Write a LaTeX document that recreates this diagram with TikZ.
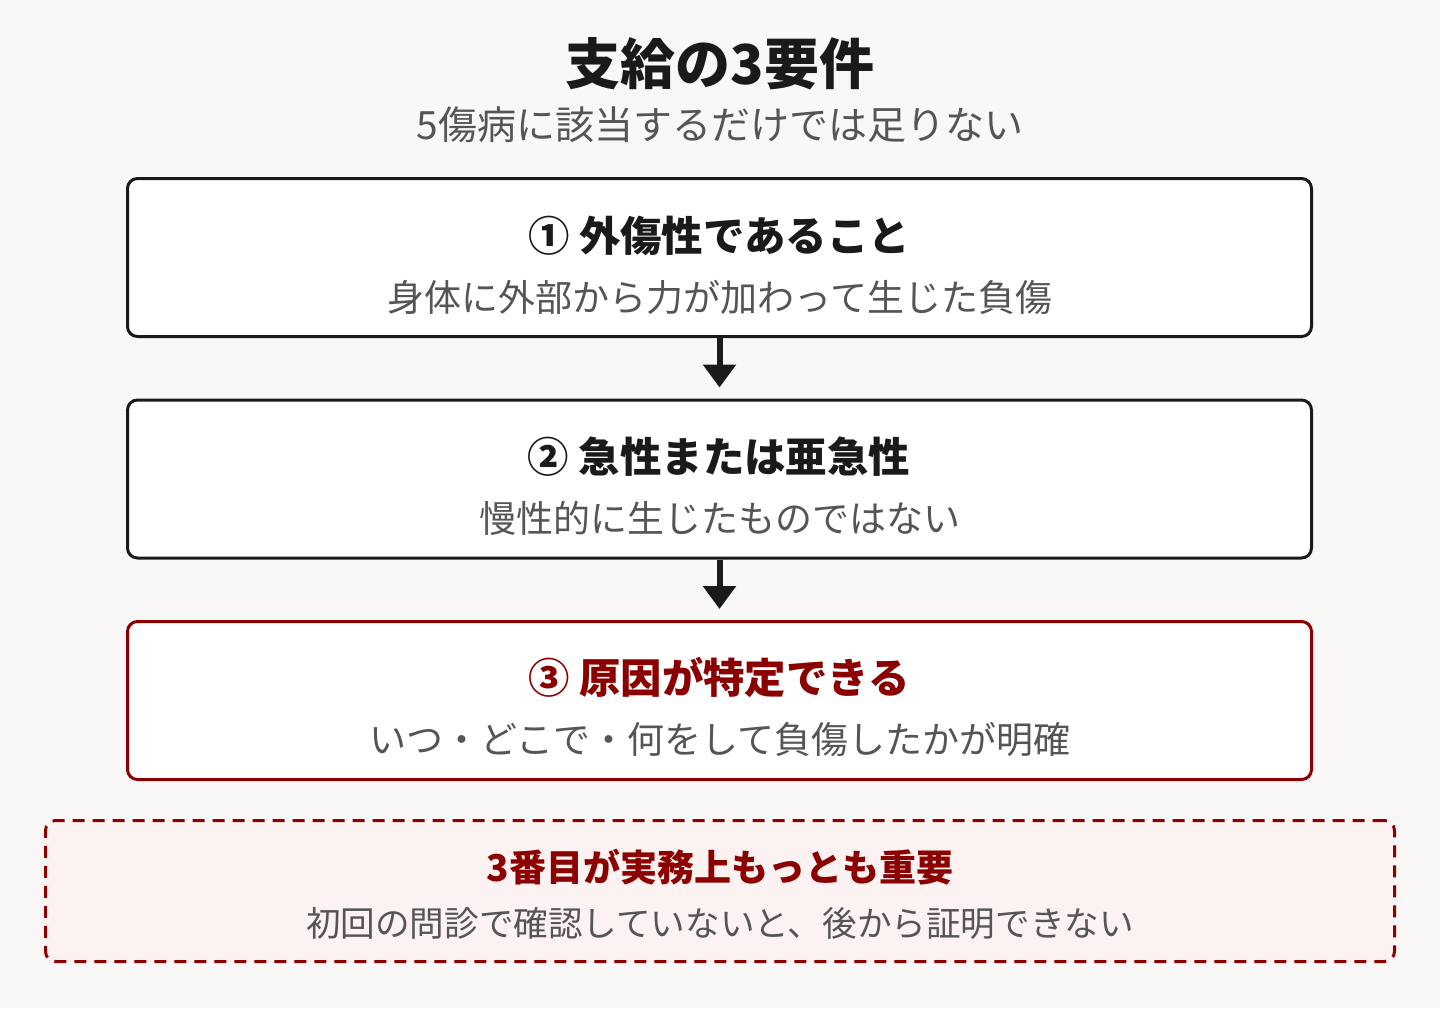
\documentclass[tikz,border=0pt]{standalone}
\usepackage{fontspec}
\setmainfont{Noto Sans CJK JP}
\usepackage{tikz}
\usetikzlibrary{arrows.meta}

\definecolor{bgpaper}{HTML}{F9F8F6}
\definecolor{inkdark}{HTML}{1A1A1A}
\definecolor{inkgray}{HTML}{555555}
\definecolor{keyred}{HTML}{8B0000}
\definecolor{notefill}{HTML}{FDF2F2}

\tikzset{
  reqbox/.style={draw=inkdark, fill=white, line width=1.5pt, rounded corners=5pt,
    minimum width=592pt, minimum height=79pt, inner sep=0pt},
  reqtitle/.style={anchor=base, inner sep=0pt, text=inkdark,
    font=\fontsize{20.7}{24}\selectfont\bfseries},
  reqtext/.style={anchor=base, inner sep=0pt, text=inkgray,
    font=\fontsize{18.5}{22}\selectfont},
  flow/.style={draw=inkdark, line width=3pt,
    -{Triangle[width=16pt,length=11.5pt]}, shorten >=5.5pt}
}

\begin{document}
\begin{tikzpicture}[x=0.5pt,y=-0.5pt]

\fill [bgpaper] (0,0) rectangle (1440,1008);

% heading
\node [anchor=base, inner sep=0pt, text=inkdark, font=\fontsize{27.5}{33}\selectfont\bfseries]
  (head) at (720,84) {支給の3要件};
\node [anchor=base, inner sep=0pt, text=inkgray, font=\fontsize{19.5}{23}\selectfont]
  (subhead) at (720,139) {5傷病に該当するだけでは足りない};

% the three requirements
\node [reqbox] (b1) at (719.5,257.5) {};
\node [reqbox] (b2) at (719.5,479) {};
\node [reqbox, draw=keyred] (b3) at (719.5,700.5) {};

\draw (719,251) node [reqtitle] (t1) {① 外傷性であること};
\draw (720,311) node [reqtext] (s1) {身体に外部から力が加わって生じた負傷};

\draw (719,472) node [reqtitle] (t2) {② 急性または亜急性};
\draw (720,532) node [reqtext] (s2) {慢性的に生じたものではない};

\draw (719,693) node [reqtitle, text=keyred] (t3) {③ 原因が特定できる};
\draw (720,753) node [reqtext] (s3) {いつ・どこで・何をして負傷したかが明確};

\foreach \a/\b in {b1/b2, b2/b3}
    \draw [flow] (\a.south) -- (\b.north);

% note
\node [draw=keyred, fill=notefill, line width=1.5pt, dash pattern=on 6pt off 4pt,
  rounded corners=5pt, minimum width=674.5pt, minimum height=70.5pt, inner sep=0pt]
  (note) at (720,891) {};
\draw (720,881) node [anchor=base, inner sep=0pt, text=keyred,
  font=\fontsize{18.5}{22}\selectfont\bfseries] (nt) {3番目が実務上もっとも重要};
\draw (720,936) node [reqtext, font=\fontsize{17.3}{21}\selectfont] (ns)
  {初回の問診で確認していないと、後から証明できない};

\end{tikzpicture}
\end{document}
